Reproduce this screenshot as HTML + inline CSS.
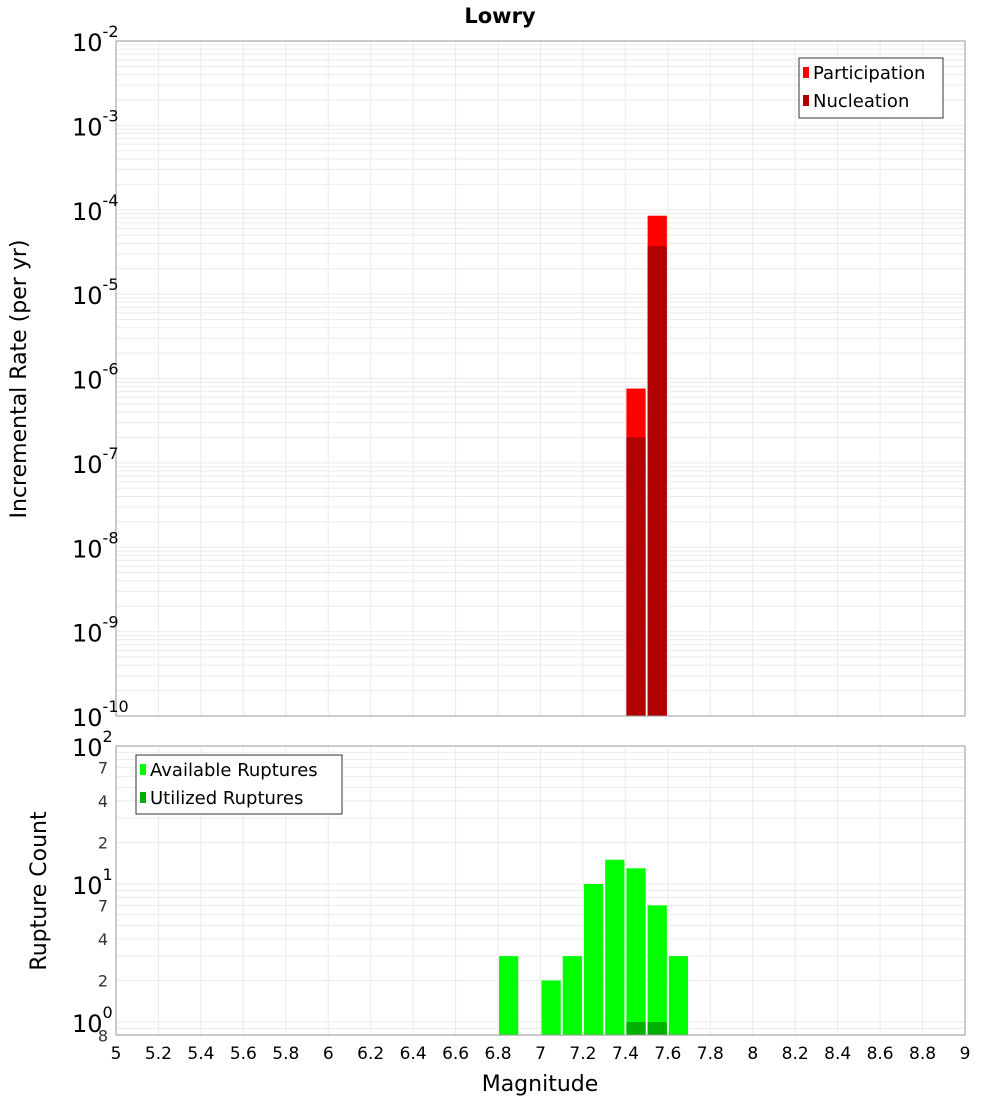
<!DOCTYPE html>
<html><head><meta charset="utf-8"><style>
body{margin:0;background:#fff;font-family:"DejaVu Sans","Liberation Sans",sans-serif}
svg{display:block;font-family:"DejaVu Sans","Liberation Sans",sans-serif}
</style></head><body>
<svg id="c" width="1000" height="1100" xmlns="http://www.w3.org/2000/svg"></svg>
<script>
const binCenters=[7.45,7.55];
const participation=[7.6e-7,8.5e-5];
const nucleation=[2.0e-7,3.7e-5];
const countBins=[6.85,7.05,7.15,7.25,7.35,7.45,7.55,7.65];
const available=[3,2,3,10,15,13,7,3];
const utilizedBins=[7.45,7.55];
const utilized=[1,1];
const xTicks=[5,5.2,5.4,5.6,5.8,6,6.2,6.4,6.6,6.8,7,7.2,7.4,7.6,7.8,8,8.2,8.4,8.6,8.8,9];
const topExps=[-2,-3,-4,-5,-6,-7,-8,-9,-10];
const botMinor=[{v:70,t:"7"},{v:40,t:"4"},{v:20,t:"2"},{v:7,t:"7"},{v:4,t:"4"},{v:2,t:"2"},{v:0.8,t:"8"}];

const svg=document.getElementById('c');
const NS="http://www.w3.org/2000/svg";
function el(tag,attrs,name,inter,parent){const e=document.createElementNS(NS,tag);for(const k in attrs)e.setAttribute(k,attrs[k]);


(parent||svg).appendChild(e);return e;}
const X0=116,X1=965;
const xs=v=>X0+(v-5)/4*(X1-X0);
const T0=41,T1=716;
const ty=v=>T0+(-2-Math.log10(v))/8*(T1-T0);
const B0=746,B1=1035;
const by=v=>1022-Math.log10(v)*138;

const t=el('text',{x:500,y:23,'text-anchor':'middle','font-size':21,'font-weight':'bold'},'chart-title',false);t.textContent='Lowry';

el('rect',{x:X0,y:T0,width:X1-X0,height:T1-T0,fill:'#fff'},'top-plot-area',false);
el('rect',{x:X0,y:B0,width:X1-X0,height:B1-B0,fill:'#fff'},'bottom-plot-area',false);
const g=el('g',{stroke:'#ebebeb','stroke-width':1},'gridlines',false);
xTicks.forEach(v=>{el('line',{x1:xs(v),x2:xs(v),y1:T0,y2:T1},'x-grid-top',false,g);el('line',{x1:xs(v),x2:xs(v),y1:B0,y2:B1},'x-grid-bottom',false,g);});
for(let e=-10;e<-2;e++)for(let m=1;m<10;m++){const y=ty(m*Math.pow(10,e));el('line',{x1:X0,x2:X1,y1:y,y2:y},'y-grid-top',false,g);}
[0.8,0.9,1,2,3,4,5,6,7,8,9,10,20,30,40,50,60,70,80,90,100].forEach(v=>{const y=by(v);el('line',{x1:X0,x2:X1,y1:y,y2:y},'y-grid-bottom',false,g);});

binCenters.forEach((c,i)=>{
 el('rect',{x:xs(c-0.05)+1,y:ty(participation[i]),width:xs(c+0.05)-xs(c-0.05)-2,height:T1-ty(participation[i]),fill:'#ff0000'},'participation-bar',true);
 el('rect',{x:xs(c-0.05)+1,y:ty(nucleation[i]),width:xs(c+0.05)-xs(c-0.05)-2,height:T1-ty(nucleation[i]),fill:'#b00000'},'nucleation-bar',true);
});
countBins.forEach((c,i)=>{
 el('rect',{x:xs(c-0.05)+1,y:by(available[i]),width:xs(c+0.05)-xs(c-0.05)-2,height:B1-by(available[i]),fill:'#00ff00'},'available-bar',true);
});
utilizedBins.forEach((c,i)=>{
 el('rect',{x:xs(c-0.05)+1,y:by(utilized[i]),width:xs(c+0.05)-xs(c-0.05)-2,height:B1-by(utilized[i]),fill:'#00b000'},'utilized-bar',true);
});
el('rect',{x:X0,y:T0,width:X1-X0,height:T1-T0,fill:'none',stroke:'#999'},'top-plot-border',false);
el('rect',{x:X0,y:B0,width:X1-X0,height:B1-B0,fill:'none',stroke:'#999'},'bottom-plot-border',false);

topExps.forEach(e=>{const y=ty(Math.pow(10,e));
 const tx=el('text',{x:72,y:y+10,'font-size':24},'y-tick-label',false);tx.textContent='10';
 const s=el('tspan',{dy:-14,'font-size':16},'y-tick-exponent',false,tx);s.textContent=String(e);});
[2,1,0].forEach(e=>{const y=by(Math.pow(10,e));
 const tx=el('text',{x:72,y:y+10,'font-size':24},'y-tick-label',false);tx.textContent='10';
 const s=el('tspan',{dy:-14,'font-size':16},'y-tick-exponent',false,tx);s.textContent=String(e);});
botMinor.forEach(m=>{const tx=el('text',{x:108,y:by(m.v)+6,'font-size':16,'text-anchor':'end',fill:'#333'},'y-minor-tick-label',false);tx.textContent=m.t;});
xTicks.forEach(v=>{const tx=el('text',{x:xs(v),y:1059,'font-size':17,'text-anchor':'middle'},'x-tick-label',false);tx.textContent=String(v);});
const xl=el('text',{x:540,y:1091,'font-size':22,'text-anchor':'middle'},'x-axis-title',false);xl.textContent='Magnitude';
const yl=el('text',{x:0,y:0,'font-size':22,'text-anchor':'middle',transform:'translate(26,379) rotate(-90)'},'y-axis-title-top',false);yl.textContent='Incremental Rate (per yr)';
const yl2=el('text',{x:0,y:0,'font-size':22,'text-anchor':'middle',transform:'translate(46,891) rotate(-90)'},'y-axis-title-bottom',false);yl2.textContent='Rupture Count';

const lg=el('g',{},'top-legend',false);
el('rect',{x:799,y:58,width:144,height:60,fill:'#fff',stroke:'#333'},'legend-box',false,lg);
el('rect',{x:803,y:67,width:6,height:11,fill:'#ff0000'},'legend-swatch-participation',false,lg);
let lt=el('text',{x:813,y:79,'font-size':18},'legend-entry-participation',false,lg);lt.textContent='Participation';
el('rect',{x:803,y:95,width:6,height:11,fill:'#b00000'},'legend-swatch-nucleation',false,lg);
lt=el('text',{x:813,y:107,'font-size':18},'legend-entry-nucleation',false,lg);lt.textContent='Nucleation';
const lg2=el('g',{},'bottom-legend',false);
el('rect',{x:136,y:755,width:206,height:59,fill:'#fff',stroke:'#333'},'legend-box',false,lg2);
el('rect',{x:140,y:764,width:6,height:11,fill:'#00ff00'},'legend-swatch-available',false,lg2);
lt=el('text',{x:150,y:776,'font-size':18},'legend-entry-available',false,lg2);lt.textContent='Available Ruptures';
el('rect',{x:140,y:792,width:6,height:11,fill:'#00b000'},'legend-swatch-utilized',false,lg2);
lt=el('text',{x:150,y:804,'font-size':18},'legend-entry-utilized',false,lg2);lt.textContent='Utilized Ruptures';
</script>
</body></html>
